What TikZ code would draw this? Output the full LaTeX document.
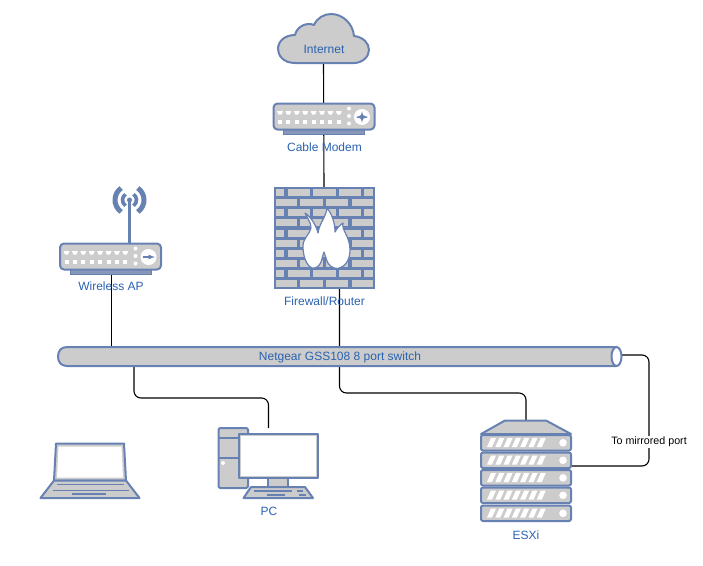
\documentclass[tikz,border=0pt]{standalone}
\usepackage{fontspec}
\setmainfont{Liberation Sans}
\usetikzlibrary{positioning,shapes,arrows}
\definecolor{iconblue}{HTML}{6881B3}
\definecolor{icongray}{HTML}{CCCCCC}
\definecolor{labelblue}{HTML}{2A62B0}
\tikzset{
  icon/.style={line width=2, draw=iconblue, fill=icongray, line join=round},
  iconbox/.style={draw=none, fill=none, inner sep=0, outer sep=0},
  caption/.style={text=labelblue, font=\fontsize{12}{14}\selectfont, inner sep=1},
  wire/.style={line width=1.1, color=black, rounded corners=7}
}
\begin{document}
\begin{tikzpicture}[x=1pt,y=-1pt]
\useasboundingbox (0,0) rectangle (703,565);
\node[iconbox, minimum width=91, minimum height=49] (internet) at (323.5,38.5) {};
\node[iconbox, minimum width=101, minimum height=31] (modem) at (324,119) {};
\node[iconbox, minimum width=101, minimum height=102] (firewall) at (324,238) {};
\node[iconbox, minimum width=101, minimum height=29] (ap) at (110.5,258.5) {};
\node[iconbox, minimum width=564, minimum height=19] (switch) at (340,356.5) {};
\node[iconbox, minimum width=100, minimum height=55] (laptop) at (90,470.5) {};
\node[iconbox, minimum width=100, minimum height=70] (pc) at (268,463) {};
\node[iconbox, minimum width=90, minimum height=101] (esxi) at (526,470.5) {};
\coordinate (fwport) at (339.5,289);
\coordinate (apport) at (111.5,273);
\coordinate (pcport) at (134,366);
\coordinate (pcin) at (268.5,428);
\coordinate (swport) at (622,355);
\coordinate (esxiport) at (571,466);
\draw[wire] (internet.south) -- (firewall.north);
\draw[wire] (apport) -- (apport |- switch.north);
\draw[wire] (fwport) -- (339.5,393) -- (526,393) -- (esxi.north);
\draw[wire] (pcport) -- (134,398) -- (268.5,398) -- (pcin);
\draw[wire] (swport) -- (649,355) -- (649,466) -- (esxiport);
\draw[icon] (295,63) .. controls (283,63) and (278,55) .. (278,49) .. controls (278,41) and (285,35) .. (295,35) .. controls (297,26) and (307,22) .. (314,25) .. controls (317,18) and (324,14) .. (331,14) .. controls (343,14) and (353,24) .. (354,36) .. controls (363,37) and (369,43) .. (369,50) .. controls (369,57) and (362,63) .. (354,63) -- cycle;
\foreach \bx/\by in {273.5/103.5,60/243.5} {
  \fill[iconblue!70!icongray] (\bx+10,\by+25) rectangle (\bx+91,\by+31);
  \draw[iconblue, line width=1] (\bx+10,\by+25) rectangle (\bx+91,\by+31);
  \draw[icon, rounded corners=4] (\bx,\by) rectangle (\bx+101,\by+26);
  \foreach \i in {0,...,7} {
    \fill[white] (\bx+3.5+\i*8.4,\by+7.5) -- (\bx+9.5+\i*8.4,\by+7.5) -- (\bx+8+\i*8.4,\by+11) -- (\bx+5+\i*8.4,\by+11) -- cycle;
    \fill[white] (\bx+4.5+\i*8.4,\by+16.5) rectangle (\bx+8.5+\i*8.4,\by+20.5);
  }
  \foreach \j in {5,12.5,20} {
    \fill[white] (\bx+75.5,\by+\j) circle[radius=2];
  }
  \fill[white] (\bx+88.5,\by+13.5) circle[radius=8];
}
\draw[iconblue, line width=1, -latex] (356.5,117) -- (368,117);
\draw[iconblue, line width=1, -latex] (367,117) -- (356,117);
\draw[iconblue, line width=1, -latex] (362,117) -- (362,111.5);
\draw[iconblue, line width=1, -latex] (362,117) -- (362,122.5);
\draw[iconblue, line width=1.2, -latex] (143,257) -- (155,257);
\fill[iconblue] (273.5,187) rectangle (375,289);
\foreach \r in {0,2,4,6,8} {
  \foreach \ba/\bb in {275.5/284,288/310,313/336,339/361,364/373} {
    \fill[icongray] (\ba,189+\r*10.15) rectangle (\bb,196+\r*10.15);
  }
}
\foreach \r in {1,3,5,7,9} {
  \foreach \ba/\bb in {275.5/297,300/323,326/348,352/373} {
    \fill[icongray] (\ba,189+\r*10.15) rectangle (\bb,196+\r*10.15);
  }
}
\filldraw[fill=white, draw=iconblue, line width=1.2, line join=round] (305,213) .. controls (311,217) and (316,225) .. (318,233) .. controls (319,224) and (326,217) .. (327,208) .. controls (332,214) and (335,223) .. (335,232) .. controls (337,228) and (340,225) .. (343,223) .. controls (341,230) and (350,236) .. (350,250) .. controls (350,260) and (345,267) .. (338,268.5) .. controls (332,269) and (328,264) .. (327,261) .. controls (326,258) and (325,255) .. (324,252) .. controls (323,255) and (322,259) .. (321,262) .. controls (319,267) and (315,268.5) .. (312,268) .. controls (306,265) and (303,256) .. (303,246) .. controls (303,238) and (310,234) .. (311,228) .. controls (311,222) and (307,218) .. (305,213) -- cycle;
\draw[iconblue, line width=2.5] (129.5,244) -- (129.5,201);
\fill[iconblue] (129.5,200) circle[radius=2.5];
\foreach \rr/\ww in {7/3.6,14.5/5} {
  \draw[iconblue, line width=\ww] (129.5,200) ++(125:\rr) arc[start angle=125, end angle=235, radius=\rr];
  \draw[iconblue, line width=\ww] (129.5,200) ++(55:\rr) arc[start angle=55, end angle=-55, radius=\rr];
}
\draw[icon] (616,347) -- (67,347) .. controls (61,347) and (58,351) .. (58,356.5) .. controls (58,362) and (61,366) .. (67,366) -- (616,366);
\draw[line width=2, draw=iconblue, fill=white] (616.5,356.5) ellipse[x radius=5, y radius=9.5];
\draw[icon] (54,480.5) -- (56,443.5) -- (124,443.5) -- (126,480.5) -- cycle;
\fill[white] (58.5,446.5) -- (121.5,446.5) -- (123,477.5) -- (57,477.5) -- cycle;
\draw[icon] (54,480.5) -- (126,480.5) -- (139.5,498) -- (40.5,498) -- cycle;
\draw[iconblue, line width=1] (57,484) -- (124,484);
\draw[iconblue, line width=1] (52.5,490) -- (129,490);
\draw[iconblue, line width=1.5] (72,494) -- (106,494);
\draw[icon, rounded corners=2] (218.5,428) rectangle (248,488);
\draw[iconblue, line width=2] (218.5,437.5) -- (248,437.5);
\draw[iconblue, line width=2] (218.5,458) -- (248,458);
\fill[white] (223,463) circle[radius=2];
\draw[icon] (268,478) rectangle (288,487);
\draw[icon] (238.5,433.5) rectangle (318,478);
\fill[white] (241,436) rectangle (315.5,475.5);
\draw[icon] (251,487) -- (305,487) -- (313,498) -- (243.5,498) -- cycle;
\draw[iconblue, line width=1.5] (254,491) -- (292,491);
\draw[iconblue, line width=1.5] (267,495) -- (285,495);
\draw[iconblue, line width=1.5] (297,491) -- (303,491);
\draw[iconblue, line width=1.5] (299,495) -- (306,495);
\draw[icon] (505,420.5) -- (546,420.5) -- (571,434) -- (481,434) -- cycle;
\foreach \uy in {435,452.5,470,487.5,505.5} {
  \draw[icon, rounded corners=2] (481,\uy) rectangle (571,\uy+15.5);
  \foreach \i in {0,...,6} {
    \fill[white] (487+\i*8.3,\uy+12) -- (491+\i*8.3,\uy+3) -- (496+\i*8.3,\uy+3) -- (492+\i*8.3,\uy+12) -- cycle;
  }
  \fill[white] (563,\uy+7.8) circle[radius=3.8];
}
\node[caption] (internettext) at (324,49) {Internet};
\node[caption] (modemtext) at (324.5,147) {Cable Modem};
\node[caption] (firewalltext) at (324.5,301) {Firewall/Router};
\node[caption] (aptext) at (111,286) {Wireless AP};
\node[caption] (switchtext) at (340,357) {Netgear GSS108 8 port switch};
\node[caption] (pctext) at (269,511) {PC};
\node[caption] (esxitext) at (526,535) {ESXi};
\node[fill=white, inner sep=1, font=\fontsize{10.7}{13}\selectfont] (mirrortext) at (649,442) {To mirrored port};
\end{tikzpicture}
\end{document}
